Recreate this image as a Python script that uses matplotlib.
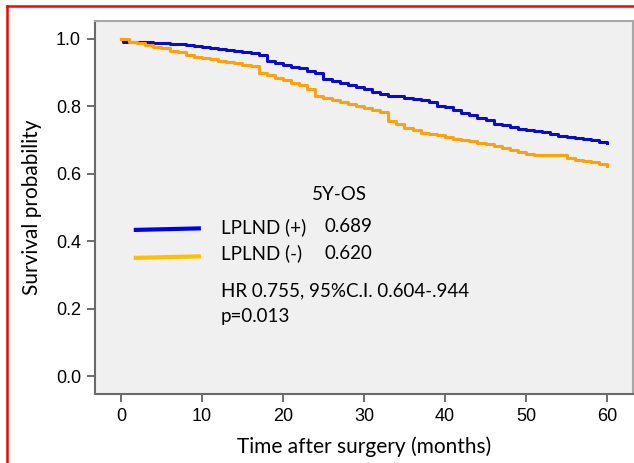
import matplotlib
matplotlib.use("Agg")
import matplotlib.pyplot as plt
from matplotlib.lines import Line2D

# ── Data ──────────────────────────────────────────────────────────────────────
months_pos = [0, 0.3, 4, 6, 8, 9, 10, 11, 12, 13, 14, 15, 16, 17, 18, 19, 20,
              21, 22, 23, 24, 25, 26, 27, 28, 29, 30, 31, 32, 33, 34, 35, 36,
              37, 38, 39, 40, 41, 42, 43, 44, 45, 46, 47, 48, 49, 50, 51, 52,
              53, 54, 55, 56, 57, 58, 59, 60]
surv_pos = [1.0, 0.990, 0.988, 0.986, 0.983, 0.980, 0.977, 0.973, 0.970, 0.968,
            0.965, 0.960, 0.957, 0.953, 0.935, 0.930, 0.922, 0.918, 0.913,
            0.905, 0.898, 0.880, 0.875, 0.868, 0.864, 0.858, 0.850, 0.844,
            0.836, 0.832, 0.830, 0.826, 0.823, 0.819, 0.814, 0.802, 0.797,
            0.788, 0.781, 0.775, 0.766, 0.760, 0.748, 0.744, 0.739, 0.734,
            0.731, 0.728, 0.724, 0.718, 0.712, 0.709, 0.707, 0.703, 0.700,
            0.695, 0.690]

months_neg = list(range(0, 61))
surv_neg = [1.0, 0.992, 0.988, 0.982, 0.977, 0.972, 0.965, 0.960, 0.953, 0.947,
            0.943, 0.939, 0.934, 0.931, 0.928, 0.924, 0.920, 0.899, 0.892,
            0.884, 0.877, 0.870, 0.862, 0.850, 0.832, 0.826, 0.819, 0.812,
            0.806, 0.801, 0.795, 0.788, 0.782, 0.757, 0.748, 0.736, 0.729,
            0.722, 0.717, 0.714, 0.708, 0.702, 0.699, 0.696, 0.692, 0.687,
            0.682, 0.677, 0.670, 0.665, 0.660, 0.656, 0.656, 0.656, 0.656,
            0.646, 0.642, 0.638, 0.634, 0.628, 0.622]

x_ticks = [0, 10, 20, 30, 40, 50, 60]
y_ticks = [0.0, 0.2, 0.4, 0.6, 0.8, 1.0]
group_labels = ["LPLND (+)", "LPLND (-)"]
five_year_os = ["0.689", "0.620"]

BLUE = "#0b0bcc"
ORANGE = "#ffa10a"
TXT_FONT = ["Lato", "DejaVu Sans"]
TICK_FONT = ["Liberation Sans", "DejaVu Sans"]
TXT_SIZE = 13.5

fig = plt.figure(figsize=(6.34, 4.63), dpi=100)
ax = fig.add_axes([0.1498, 0.149, 0.8486, 0.8056])
ax.set_facecolor("#f0f0f0")

ax.step(months_pos, surv_pos, where="post", color=BLUE, linewidth=2.2)
ax.step(months_neg, surv_neg, where="post", color=ORANGE, linewidth=2.2)

ax.set_xlim(-3.2, 63.2)
ax.set_ylim(-0.053, 1.053)
ax.set_xticks(x_ticks)
ax.set_yticks(y_ticks)
ax.set_xticklabels([str(t) for t in x_ticks], family=TICK_FONT, fontsize=13)
ax.set_yticklabels([f"{v:.1f}" for v in y_ticks], family=TICK_FONT, fontsize=13)
ax.tick_params(length=6, width=1.2, color="#555555", pad=4)

for side in ("left", "bottom"):
    ax.spines[side].set_color("#6a6a6a")
    ax.spines[side].set_linewidth(1.5)
for side in ("top", "right"):
    ax.spines[side].set_color("#a8a8a8")
    ax.spines[side].set_linewidth(1.5)

ax.set_xlabel("Time after surgery (months)", family=TXT_FONT, fontsize=15,
              labelpad=8)
ax.set_ylabel("Survival probability", family=TXT_FONT, fontsize=15,
              labelpad=10)

# ── Legend block drawn inside the axes ───────────────────────────────────────
tr = ax.transAxes
ax.text(0.403, 0.536, "5Y-OS", transform=tr, family=TXT_FONT, fontsize=TXT_SIZE,
        va="center", ha="left")
ax.add_line(Line2D([0.076, 0.193], [0.440, 0.444], transform=tr,
                   color="#0000ee", linewidth=3))
ax.add_line(Line2D([0.076, 0.193], [0.365, 0.369], transform=tr,
                   color="#ffc000", linewidth=3))
for y, lab, val in zip([0.448, 0.378], group_labels, five_year_os):
    ax.text(0.234, y, lab, transform=tr, family=TXT_FONT, fontsize=TXT_SIZE,
            va="center", ha="left")
    ax.text(0.426, y, val, transform=tr, family=TXT_FONT, fontsize=TXT_SIZE,
            va="center", ha="left")
ax.text(0.234, 0.277, "HR 0.755, 95%C.I. 0.604-.944", transform=tr,
        family=TXT_FONT, fontsize=TXT_SIZE, va="center", ha="left")
ax.text(0.234, 0.207, "p=0.013", transform=tr, family=TXT_FONT,
        fontsize=TXT_SIZE, va="center", ha="left")

# ── Red frame around the figure ──────────────────────────────────────────────
W, H = 634, 463
fig.add_artist(Line2D([7 / W, 7 / W], [0, 1 - 6 / H], color="red",
                      linewidth=1.8, transform=fig.transFigure))
fig.add_artist(Line2D([7 / W, 1], [1 - 6 / H, 1 - 6 / H], color="red",
                      linewidth=1.8, transform=fig.transFigure))

fig.savefig("out.png", dpi=100)
